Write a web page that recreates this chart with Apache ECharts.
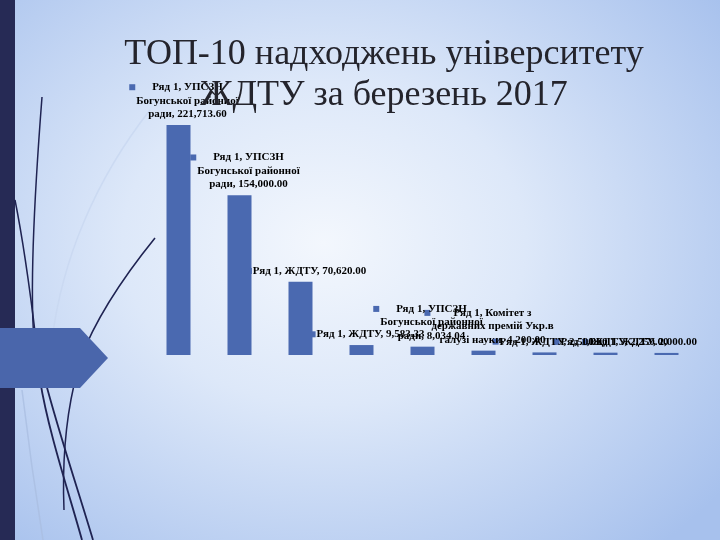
<!DOCTYPE html>
<html>
<head>
<meta charset="utf-8">
<script src="https://cdn.jsdelivr.net/npm/echarts@6/dist/echarts.min.js"></script>
<style>
  html, body { margin: 0; padding: 0; }
  #main {
    width: 720px;
    height: 540px;
    background: radial-gradient(ellipse 70% 75% at 45% 45%, #f3f7fd 0%, #dde8f9 40%, #a7c1ed 100%);
  }
</style>
</head>
<body>
<div id="main"></div>
<script>
const seriesName = "Ряд 1";
const categories = [
  "УПСЗН Богунської районної ради",
  "УПСЗН Богунської районної ради",
  "ЖДТУ",
  "ЖДТУ",
  "УПСЗН Богунської районної ради",
  "Комітет з державних премій Укр.в галузі науки",
  "ЖДТУ",
  "ЖДТУ",
  "ЖДТУ",
];
const values = [221713.6, 154000, 70620, 9583.33, 8034.04, 4200, 2500, 2250, 2000];

const barColor = "#4a69b0";
const labelFont = 'bold 11px "Liberation Serif"';
const lineH = 13.5;
const wrapWidth = 127;
const textShift = 9;
const plotRight = 697;

// measure text so labels can wrap like the original data labels
const ctx = document.createElement("canvas").getContext("2d");
ctx.font = labelFont;

function fmt(v) {
  return v.toLocaleString("en-US", { minimumFractionDigits: 2, maximumFractionDigits: 2 });
}

function wrap(text) {
  const words = text.split(" ");
  const lines = [];
  let cur = "";
  words.forEach((w) => {
    const next = cur ? cur + " " + w : w;
    if (cur && ctx.measureText(next).width > wrapWidth) {
      lines.push(cur);
      cur = w;
    } else {
      cur = next;
    }
  });
  if (cur) lines.push(cur);
  return lines;
}

const labelLines = values.map((v, i) => wrap(seriesName + ", " + categories[i] + ", " + fmt(v)));
const labelWidths = labelLines.map((ls) => Math.max(...ls.map((l) => ctx.measureText(l).width)));

const chart = echarts.init(document.getElementById("main"));

function buildOption(shifts) {
  return {
    animation: false,
    title: {
      text: "ТОП-10 надходжень університету\nЖДТУ за березень 2017",
      left: 379,
      top: 29,
      textAlign: "center",
      textStyle: {
        fontFamily: "Liberation Serif",
        fontWeight: "normal",
        fontSize: 36,
        lineHeight: 41,
        color: "#24242c",
      },
    },
    graphic: [
      { type: "rect", shape: { x: 0, y: 0, width: 15, height: 540 }, style: { fill: "#262a55" } },
      { type: "bezierCurve", shape: { x1: 150, y1: 110, cpx1: 95, cpy1: 180, cpx2: 62, cpy2: 260, x2: 52, y2: 340 }, style: { stroke: "rgba(200,215,240,0.8)", lineWidth: 1.5, fill: null } },
      { type: "bezierCurve", shape: { x1: 42, y1: 97, cpx1: 34, cpy1: 200, cpx2: 30, cpy2: 290, x2: 34, y2: 340 }, style: { stroke: "#1f2352", lineWidth: 1.5, fill: null } },
      { type: "bezierCurve", shape: { x1: 15, y1: 200, cpx1: 25, cpy1: 250, cpx2: 30, cpy2: 290, x2: 36, y2: 340 }, style: { stroke: "#1f2352", lineWidth: 1.5, fill: null } },
      { type: "bezierCurve", shape: { x1: 155, y1: 238, cpx1: 125, cpy1: 275, cpx2: 95, cpy2: 320, x2: 80, y2: 360 }, style: { stroke: "#1f2352", lineWidth: 1.6, fill: null } },
      { type: "bezierCurve", shape: { x1: 40, y1: 380, cpx1: 48, cpy1: 430, cpx2: 68, cpy2: 490, x2: 82, y2: 540 }, style: { stroke: "#1f2352", lineWidth: 1.8, fill: null } },
      { type: "bezierCurve", shape: { x1: 45, y1: 380, cpx1: 58, cpy1: 430, cpx2: 78, cpy2: 490, x2: 93, y2: 540 }, style: { stroke: "#1f2352", lineWidth: 1.8, fill: null } },
      { type: "bezierCurve", shape: { x1: 74, y1: 385, cpx1: 66, cpy1: 420, cpx2: 62, cpy2: 460, x2: 64, y2: 510 }, style: { stroke: "#1f2352", lineWidth: 1.5, fill: null } },
      { type: "bezierCurve", shape: { x1: 22, y1: 390, cpx1: 28, cpy1: 440, cpx2: 35, cpy2: 490, x2: 43, y2: 540 }, style: { stroke: "rgba(170,190,225,0.8)", lineWidth: 1.5, fill: null } },
      {
        type: "polygon",
        shape: { points: [[0, 328], [80, 328], [108, 358], [80, 388], [0, 388]] },
        style: { fill: "#4a66ab" },
      },
    ],
    grid: { left: 148, right: 720 - 697, top: 106, bottom: 185 },
    xAxis: {
      type: "category",
      data: categories.map((c, i) => i + 1 + ". " + c),
      show: false,
    },
    yAxis: { type: "value", min: 0, max: 240000, show: false },
    series: [
      {
        name: seriesName,
        type: "bar",
        barWidth: 24,
        data: values,
        itemStyle: { color: barColor },
        z: 3,
        label: {
          show: true,
          position: "top",
          distance: 4,
          formatter: (p) => labelLines[p.dataIndex].join("\n"),
          fontFamily: "Liberation Serif",
          fontWeight: "bold",
          fontSize: 11,
          lineHeight: lineH,
          color: "#000",
          align: "center",
        },
        labelLayout: (p) => ({ dx: textShift + shifts[p.dataIndex] }),
      },
      {
        // legend keys in front of the data labels
        name: seriesName,
        type: "bar",
        barWidth: 24,
        barGap: "-100%",
        data: values,
        silent: true,
        itemStyle: { color: "transparent" },
        z: 2,
        label: {
          show: true,
          position: "top",
          distance: 4,
          formatter: "{m|}",
          rich: { m: { width: 6, height: 6, backgroundColor: barColor } },
        },
        labelLayout: (p) => ({
          dx: textShift + shifts[p.dataIndex] - labelWidths[p.dataIndex] / 2 - 4,
          dy: -3.75 - (labelLines[p.dataIndex].length - 1) * lineH,
        }),
      },
    ],
  };
}

chart.setOption(buildOption(values.map(() => 0)));

// keep labels inside the plot area on the right, as in the original
const shifts = values.map((v, i) => {
  const cx = chart.convertToPixel({ xAxisIndex: 0 }, i);
  const right = cx + textShift + labelWidths[i] / 2;
  return Math.min(0, plotRight - right);
});
chart.setOption(buildOption(shifts), true);
</script>
</body>
</html>
